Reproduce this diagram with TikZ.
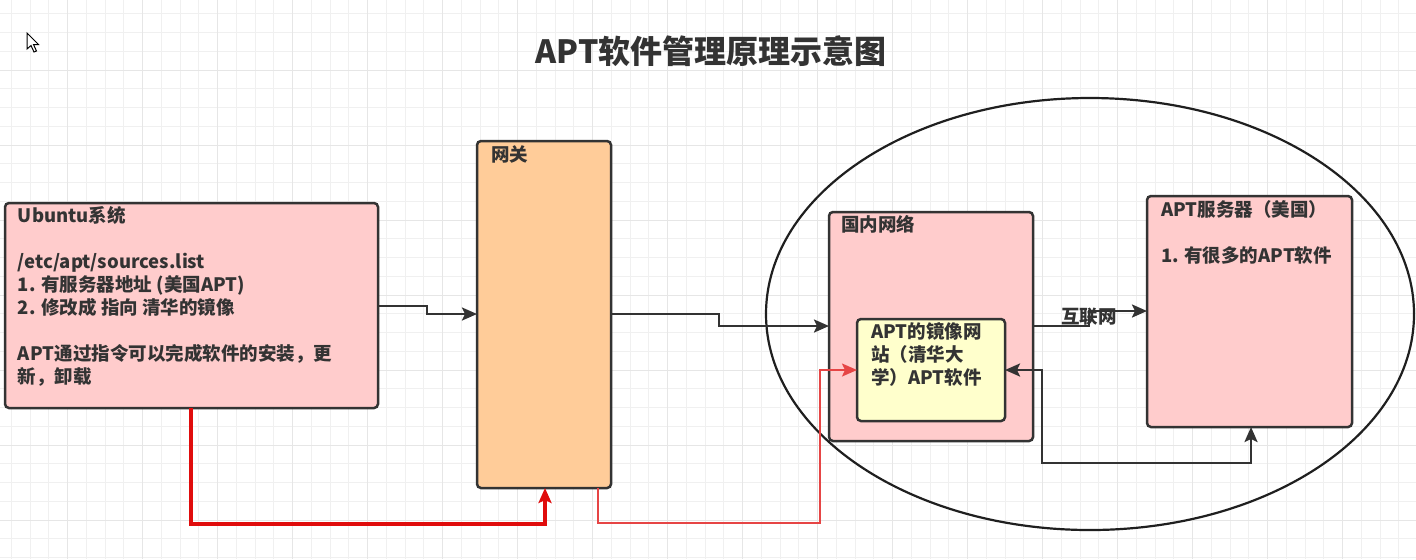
\documentclass[tikz,border=0pt]{standalone}
\usepackage{fontspec}
\setmainfont{Noto Sans CJK SC}
\usetikzlibrary{arrows.meta,shapes.geometric}
\definecolor{textc}{HTML}{333333}
\definecolor{strokec}{HTML}{333333}
\definecolor{pinkf}{HTML}{FFCCCC}
\definecolor{orangef}{HTML}{FFCC99}
\definecolor{yellowf}{HTML}{FFFFCC}
\definecolor{redthick}{HTML}{E00C0C}
\definecolor{redthin}{HTML}{E64545}
\definecolor{gridminor}{HTML}{F0F0F0}
\definecolor{gridmajor}{HTML}{E6E6E6}
\newcommand{\bodyfont}{\fontsize{9.25pt}{11pt}\selectfont\bfseries}
\tikzset{
  boxstyle/.style={draw=strokec, line width=1.25pt, rounded corners=2pt, anchor=north west, inner sep=0pt, outer sep=0pt},
  txt/.style={anchor=base west, inner sep=0pt, outer sep=0pt, font=\bodyfont, text=textc},
  conn/.style={draw=strokec, line width=1.2pt, -{Stealth[length=7.5pt,width=6.5pt,inset=1.5pt]}},
  gminor/.style={draw=gridminor, line width=0.5pt},
  gmajor/.style={draw=gridmajor, line width=0.5pt}
}
\begin{document}
\begin{tikzpicture}[x=0.5pt, y=-0.5pt]
\useasboundingbox (0,0) rectangle (1416,559);
\fill[white] (0,0) rectangle (1416,559);
% grid
\foreach \i in {0,...,75} {
  \pgfmathsetmacro\xx{11.25+18.75*\i}
  \draw[gminor] (\xx,0) -- (\xx,559);
}
\foreach \i in {0,...,29} {
  \pgfmathsetmacro\yy{13.75+18.75*\i}
  \draw[gminor] (0,\yy) -- (1416,\yy);
}
\foreach \i in {0,...,18} {
  \pgfmathsetmacro\xx{-7.5+75*\i}
  \draw[gmajor] (\xx,0) -- (\xx,559);
}
\foreach \i in {0,...,6} {
  \pgfmathsetmacro\yy{70+75*\i}
  \draw[gmajor] (0,\yy) -- (1416,\yy);
}
% cursor
\draw[fill=white, draw=black, line width=0.5pt] (27,33) -- (27,49) -- (31,45.5) -- (34,52) -- (36.5,51) -- (33.5,44.5) -- (38.5,44.5) -- cycle;
% title
\node[anchor=base, inner sep=0pt, font=\fontsize{16pt}{18pt}\selectfont\bfseries, text=textc] (title) at (711,63) {APT软件管理原理示意图};
% ellipse
\node[draw=black!88, line width=1.1pt, ellipse, minimum width=324pt, minimum height=216pt, inner sep=0pt] (net) at (1090,314) {};
% boxes
\node[boxstyle, fill=pinkf, minimum width=186.5pt, minimum height=102.5pt] (ubuntu) at (5,203) {};
\node[boxstyle, fill=orangef, minimum width=67pt, minimum height=173.5pt] (gw) at (477,141) {};
\node[boxstyle, fill=pinkf, minimum width=102pt, minimum height=114.5pt] (inner) at (829,212) {};
\node[boxstyle, fill=yellowf, minimum width=74pt, minimum height=51pt] (mirror) at (857,319) {};
\node[boxstyle, fill=pinkf, minimum width=102.5pt, minimum height=115.5pt] (server) at (1147,196) {};
% texts
\node[txt] (u1) at (18,222) {Ubuntu系统};
\node[txt] (u2) at (18,268) {/etc/apt/sources.list};
\node[txt] (u3) at (18,291) {1. 有服务器地址 (美国APT)};
\node[txt] (u4) at (18,314) {2. 修改成 指向 清华的镜像};
\node[txt] (u5) at (18,360) {APT通过指令可以完成软件的安装，更};
\node[txt] (u6) at (18,383) {新，卸载};
\node[txt] (gwl) at (491,161) {网关};
\node[txt] (inl) at (841,231) {国内网络};
\node[txt] (m1) at (871,338) {APT的镜像网};
\node[txt] (m2) at (871,361) {站（清华大};
\node[txt] (m3) at (871,384) {学）APT软件};
\node[txt] (s1) at (1161,216) {APT服务器（美国）};
\node[txt] (s2) at (1161,262) {1. 有很多的APT软件};
% connectors
\draw[conn] (ubuntu.east |- 0,306) -- (427,306) -- (427,314) -- (gw.west |- 0,314);
\draw[conn] (gw.east |- 0,314) -- (719,314) -- (719,326) -- (inner.west |- 0,326);
\draw[conn] (inner.east |- 0,326) -- (1089,326) -- (1089,311) -- (server.west |- 0,311);
\node[anchor=center, inner sep=0pt, font=\bodyfont, text=textc] (inet) at (1089,317) {互联网};
\draw[conn, {Stealth[length=7.5pt,width=6.5pt,inset=1.5pt]}-{Stealth[length=7.5pt,width=6.5pt,inset=1.5pt]}] (mirror.east |- 0,370) -- (1042,370) -- (1042,463) -- (1251,463) -- (server.south -| 1251,0);
\draw[conn, draw=redthick, line width=1.6pt] (ubuntu.south -| 191,0) -- (191,524) -- (545,524) -- (gw.south -| 545,0);
\draw[conn, draw=redthin, line width=1pt] (gw.south -| 598,0) -- (598,523) -- (820,523) -- (820,370) -- (mirror.west |- 0,370);
\end{tikzpicture}
\end{document}
